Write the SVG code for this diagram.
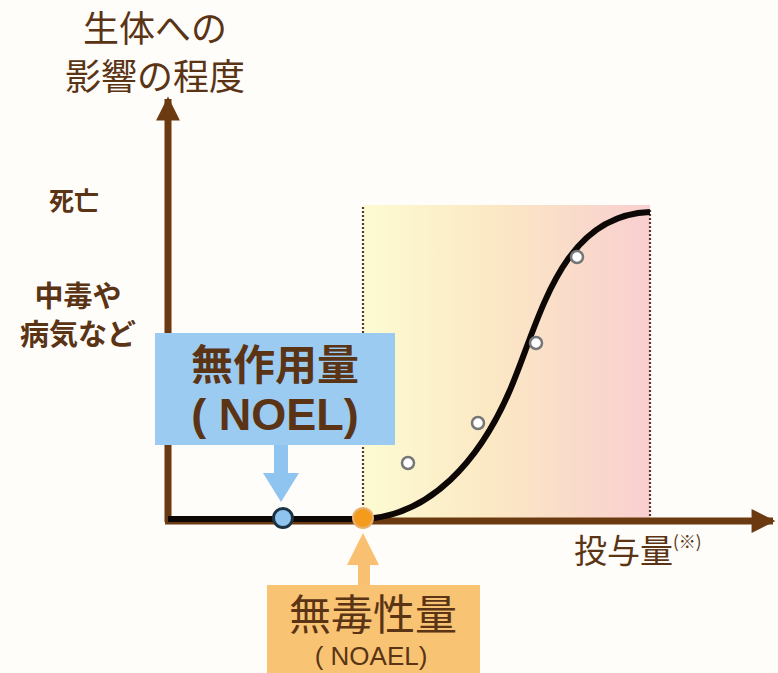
<svg xmlns="http://www.w3.org/2000/svg" width="778" height="673" viewBox="0 0 778 673">
<style>
.jp{font-family:"Noto Sans CJK JP","Noto Sans",sans-serif;fill:#5a3414}
.b{font-weight:bold}
.lat{font-family:"Liberation Sans",Arial,sans-serif;fill:#5a3414}
.axis{stroke:#6b3a10;stroke-width:7;fill:none}
.dot{stroke:#5a3a2a;stroke-width:2.2;stroke-dasharray:2 2;fill:none}
.pt{fill:#fff;stroke:#777;stroke-width:2.5}
</style>
<defs>
<linearGradient id="g" x1="0" y1="0" x2="1" y2="0">
<stop offset="0" stop-color="#fdfbd2"/>
<stop offset="0.45" stop-color="#fbe8c4"/>
<stop offset="1" stop-color="#f9cfd0"/>
</linearGradient>
<marker id="ah" viewBox="0 0 10 10" refX="9" refY="5" markerWidth="3.6" markerHeight="3.4" orient="auto" markerUnits="strokeWidth">
<path d="M0,0 L10,5 L0,10 Z" fill="#6b3a10"/>
</marker>
</defs>
<rect width="778" height="673" fill="#fefdfa"/>
<g id="region">
<rect x="363" y="205" width="287" height="315" fill="url(#g)"/>
<line class="dot" x1="363" y1="207" x2="363" y2="518"/>
<line class="dot" x1="650" y1="210" x2="650" y2="518"/>
</g>
<g id="connectors">
<line class="axis" x1="168" y1="522" x2="168" y2="99" marker-end="url(#ah)"/>
<line class="axis" x1="165" y1="521" x2="773" y2="521" marker-end="url(#ah)"/>
<path d="M168,519 L362,519 C430,517 480,460 510,390 C540,320 560,215 650,212" fill="none" stroke="#0d0806" stroke-width="6"/>
</g>
<g id="points">
<circle class="pt" cx="408" cy="463" r="6"/>
<circle class="pt" cx="478" cy="423" r="6"/>
<circle class="pt" cx="536" cy="343" r="6"/>
<circle class="pt" cx="577" cy="257" r="6"/>
</g>
<g id="ylabel">
<text class="jp" x="155" y="42" font-size="36" text-anchor="middle">生体への</text>
<text class="jp" x="155" y="90" font-size="36" text-anchor="middle">影響の程度</text>
</g>
<g id="levels">
<text class="jp b" x="74" y="210" font-size="25" text-anchor="middle">死亡</text>
<text class="jp b" x="78" y="307" font-size="29" text-anchor="middle">中毒や</text>
<text class="jp b" x="78" y="345" font-size="29" text-anchor="middle">病気など</text>
</g>
<g id="xlabel">
<text class="jp" x="574" y="563" font-size="33">投与量<tspan font-size="17" dy="-15">(※)</tspan></text>
</g>
<g id="noel">
<rect x="155" y="333" width="240" height="112" fill="#9ccbf2"/>
<text class="jp b" x="275" y="380" font-size="42" text-anchor="middle">無作用量</text>
<text class="lat b" x="275" y="430" font-size="45" text-anchor="middle">( NOEL)</text>
<path d="M274,445 H288 V473 H299 L281,502 L263,473 H274 Z" fill="#8fc4f0"/>
<circle cx="283" cy="518" r="9.5" fill="#8ec4ee" stroke="#1c3344" stroke-width="3"/>
</g>
<g id="noael">
<rect x="267" y="585" width="213" height="88" fill="#f8c373"/>
<text class="jp" x="373" y="630" font-size="42" text-anchor="middle">無毒性量</text>
<text class="lat" x="371" y="665" font-size="26" text-anchor="middle">( NOAEL)</text>
<path d="M358,585 H370 V565 H379 L363,533 L347,565 H358 Z" fill="#f8c070"/>
<circle cx="363" cy="518" r="10" fill="#f29b1c" stroke="#e9b070" stroke-width="2"/>
</g>
</svg>
